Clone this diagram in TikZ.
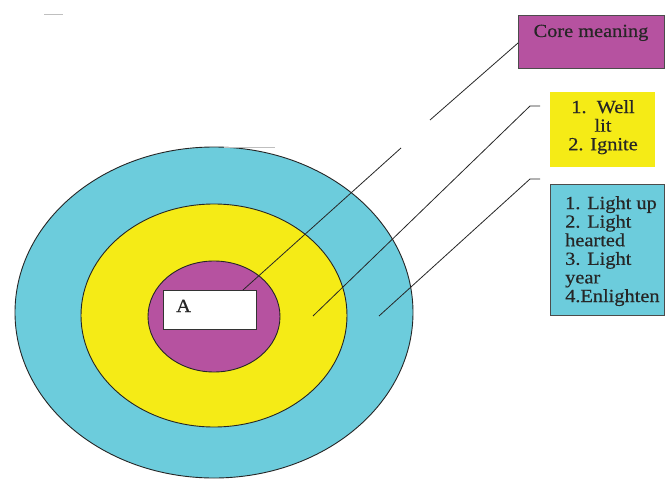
\documentclass[tikz,border=0pt]{standalone}
\usepackage{fontspec}
\setmainfont{Liberation Serif}[FakeStretch=1.1,FakeBold=0.5]
\usetikzlibrary{shapes.geometric}
\definecolor{ringcyan}{RGB}{108,204,220}
\definecolor{ringyellow}{RGB}{245,235,22}
\definecolor{ringmagenta}{RGB}{182,82,160}
\tikzset{
  ring/.style={ellipse, draw=black!85, line width=0.9pt, inner sep=0pt},
  infobox/.style={rectangle, inner sep=0pt},
  boxtext/.style={font=\fontsize{18.5}{18.6}\selectfont, inner sep=0pt, text=black!85},
  leader/.style={draw=black!85, line width=0.8pt},
  faint/.style={draw=black!25, line width=0.8pt}
}
\begin{document}
\begin{tikzpicture}[x=1pt,y=-1pt]
  \useasboundingbox (0,0) rectangle (665,479);
  \fill[white] (0,0) rectangle (665,479);

  % concentric layers
  \node[ring, fill=ringcyan, minimum width=398, minimum height=331] (outer) at (214,312.5) {};
  \node[ring, fill=ringyellow, minimum width=266, minimum height=223] (middle) at (214,315.5) {};
  \node[ring, fill=ringmagenta, minimum width=132, minimum height=111] (inner) at (214,316.5) {};

  % central word box
  \node[infobox, draw=black!80, line width=0.8pt, fill=white, minimum width=93, minimum height=39] (word) at (209.5,309.5) {};
  \node[boxtext, anchor=base west] (wordtxt) at (176,312) {A};

  % legend boxes
  \node[infobox, draw=black!70, line width=0.6pt, fill=ringmagenta, minimum width=146, minimum height=53] (core) at (591,41.5) {};
  \node[boxtext, anchor=base] (coretxt) at (591,37) {Core meaning};

  \node[infobox, fill=ringyellow, minimum width=105, minimum height=75] (mid) at (602.5,129.5) {};
  \node[boxtext, align=center, anchor=north] (midtxt) at (603,100) {1.\ \ Well\\lit\\2. Ignite};

  \node[infobox, draw=black!70, line width=0.6pt, fill=ringcyan, minimum width=114, minimum height=131] (out) at (607,249.5) {};
  \node[boxtext, align=left, anchor=north west] (outtxt) at (565,196) {1. Light up\\2. Light\\hearted\\3. Light\\year\\4.Enlighten};

  % leader lines
  \coordinate (p1a) at (243,290);
  \coordinate (p1b) at (401,148);
  \coordinate (p1c) at (430,120);
  \coordinate (p1d) at (518,43);
  \draw[leader] (p1a) -- (p1b);
  \draw[leader] (p1c) -- (p1d);

  \coordinate (p2a) at (313,316);
  \coordinate (p2b) at (530,106);
  \coordinate (p2c) at (540,106);
  \draw[leader] (p2a) -- (p2b) -- (p2c);

  \coordinate (p3a) at (379,316);
  \coordinate (p3b) at (530,179);
  \coordinate (p3c) at (540,179);
  \draw[leader] (p3a) -- (p3b) -- (p3c);

  % faint strokes
  \coordinate (f1a) at (224,147);
  \coordinate (f1b) at (275,147);
  \draw[faint] (f1a) -- (f1b);
  \coordinate (f2a) at (44,14);
  \coordinate (f2b) at (63,14);
  \draw[faint] (f2a) -- (f2b);
\end{tikzpicture}
\end{document}
